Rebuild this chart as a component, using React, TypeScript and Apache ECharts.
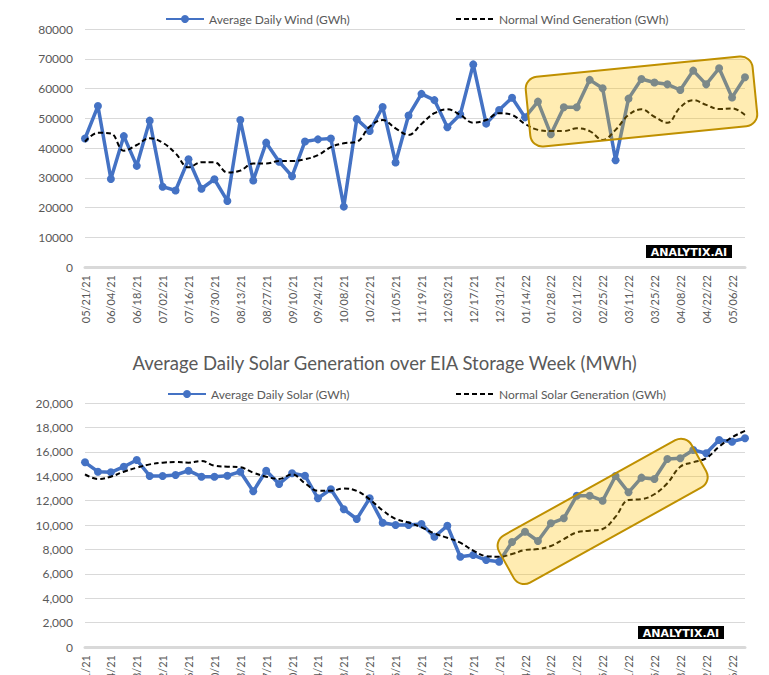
import React, { useEffect, useRef } from "react";
import * as echarts from "echarts";

const dates = [
  "05/21/21", "05/28/21", "06/04/21", "06/11/21", "06/18/21", "06/25/21", "07/02/21", "07/09/21",
  "07/16/21", "07/23/21", "07/30/21", "08/06/21", "08/13/21", "08/20/21", "08/27/21", "09/03/21",
  "09/10/21", "09/17/21", "09/24/21", "10/01/21", "10/08/21", "10/15/21", "10/22/21", "10/29/21",
  "11/05/21", "11/12/21", "11/19/21", "11/26/21", "12/03/21", "12/10/21", "12/17/21", "12/24/21",
  "12/31/21", "01/07/22", "01/14/22", "01/21/22", "01/28/22", "02/04/22", "02/11/22", "02/18/22",
  "02/25/22", "03/04/22", "03/11/22", "03/18/22", "03/25/22", "04/01/22", "04/08/22", "04/15/22",
  "04/22/22", "04/29/22", "05/06/22", "05/13/22",
];

const windActual = [
  43200, 54100, 29600, 44000, 34000, 49200, 27000, 25700, 36200, 26300, 29500, 22200, 49400,
  29100, 41800, 35400, 30500, 42200, 42900, 43200, 20300, 49700, 45700, 53800, 35100, 50900,
  58200, 56100, 47000, 51300, 68100, 48200, 52800, 56900, 50300, 55600, 44600, 53700, 53700,
  62900, 60100, 35900, 56600, 63200, 62000, 61400, 59500, 66000, 61400, 66800, 57000, 63800,
];

const windNormal = [
  42100, 45100, 44900, 39100, 41000, 43300, 41800, 38200, 33500, 35200, 35200, 31800, 32400,
  34800, 34800, 35600, 35600, 36200, 37600, 40300, 41600, 42100, 47200, 49400, 46600, 44400,
  48100, 51700, 53000, 51100, 48500, 49400, 51700, 51100, 48100, 46100, 45700, 45700, 46600,
  45700, 42700, 46100, 51100, 53000, 50500, 48500, 53700, 56100, 54500, 53100, 53300, 51100,
];

const solarActual = [
  15140, 14370, 14320, 14780, 15330, 14020, 14020, 14100, 14450, 13960, 13960, 14040, 14370,
  12760, 14450, 13360, 14240, 14040, 12190, 12930, 11290, 10490, 12190, 10190, 10000, 10000,
  10080, 9040, 9940, 7400, 7540, 7130, 6990, 8600, 9450, 8690, 10140, 10550, 12400, 12400,
  11990, 14020, 12680, 13880, 13770, 15410, 15470, 16150, 15880, 16970, 16830, 17110,
];

const solarNormal = [
  14150, 13770, 13960, 14370, 14700, 14970, 15110, 15160, 15110, 15250, 14860, 14780, 14730,
  14290, 13960, 13770, 14150, 13420, 12800, 12800, 13000, 12800, 12100, 11200, 10500, 10200,
  9800, 9300, 8950, 8550, 7900, 7450, 7400, 7620, 7950, 8030, 8280, 8850, 9400, 9530, 9670,
  10680, 12050, 12110, 12520, 13420, 14780, 15140, 15470, 16420, 17190, 17710,
];

const windName = "Average Daily Wind (GWh)";
const windNormalName = "Normal Wind Generation (GWh)";
const solarName = "Average Daily Solar (GWh)";
const solarNormalName = "Normal Solar Generation (GWh)";
const solarTitle = "Average Daily Solar Generation over EIA Storage Week (MWh)";
const watermark = "ANALYTIX.AI";

// highlight boxes: centre in data coords [category index, value]
const windBoxCenter = [42.77, 55630];
const solarBoxCenter = [39.57, 11115];

const FONT = "Lato, 'Noto Sans', sans-serif";
const GREY = "#595959";
const BLUE = "#4472C4";

export default function App() {
  const ref = useRef<HTMLDivElement>(null);
  useEffect(() => {
    if (!ref.current) return;
    const chart = echarts.init(ref.current, undefined, { renderer: "svg" });
    const xAxisBase = (gridIndex: number) => ({
      type: "category" as const,
      gridIndex,
      data: dates,
      boundaryGap: false,
      axisTick: { show: false },
      axisLine: { lineStyle: { color: "#d9d9d9", width: 3 } },
      axisLabel: {
        rotate: 90,
        interval: 1,
        margin: 8,
        fontSize: 11,
        color: GREY,
        fontFamily: FONT,
      },
      splitLine: { show: false },
    });
    const legendBase = {
      itemWidth: 38,
      itemHeight: 10,
      itemGap: 10,
      padding: 0,
      textStyle: { color: GREY, fontSize: 12, fontFamily: FONT },
      selectedMode: false as const,
    };
    chart.setOption({
      animation: false,
      backgroundColor: "#ffffff",
      title: {
        text: solarTitle,
        left: "center",
        top: 348,
        textStyle: { color: GREY, fontSize: 18.5, fontWeight: "normal", fontFamily: FONT },
      },
      legend: [
        { ...legendBase, data: [windName], left: 165, top: 13 },
        { ...legendBase, data: [{ name: windNormalName, itemStyle: { opacity: 0 } }], left: 455, top: 13 },
        { ...legendBase, data: [solarName], left: 167, top: 388 },
        { ...legendBase, data: [{ name: solarNormalName, itemStyle: { opacity: 0 } }], left: 455, top: 388 },
      ],
      grid: [
        { left: 85, right: 24, top: 29, height: 238, outerBoundsMode: "none", containLabel: false },
        { left: 85, right: 24, top: 403, height: 244, outerBoundsMode: "none", containLabel: false },
      ],
      xAxis: [xAxisBase(0), xAxisBase(1)],
      yAxis: [
        {
          type: "value",
          gridIndex: 0,
          min: 0,
          max: 80000,
          interval: 10000,
          axisLine: { show: false },
          axisTick: { show: false },
          axisLabel: { margin: 12, fontSize: 12, color: GREY, fontFamily: FONT, formatter: (v: number) => String(v) },
          splitLine: { lineStyle: { color: "#d9d9d9", width: 1 } },
        },
        {
          type: "value",
          gridIndex: 1,
          min: 0,
          max: 20000,
          interval: 2000,
          axisLine: { show: false },
          axisTick: { show: false },
          axisLabel: {
            margin: 12,
            fontSize: 12,
            color: GREY,
            fontFamily: FONT,
            formatter: (v: number) => v.toLocaleString("en-US"),
          },
          splitLine: { lineStyle: { color: "#d9d9d9", width: 1 } },
        },
      ],
      series: [
        {
          name: windName,
          type: "line",
          xAxisIndex: 0,
          yAxisIndex: 0,
          data: windActual,
          symbol: "circle",
          symbolSize: 8,
          itemStyle: { color: BLUE },
          lineStyle: { color: BLUE, width: 3.5 },
          z: 3,
        },
        {
          name: windNormalName,
          type: "line",
          xAxisIndex: 0,
          yAxisIndex: 0,
          data: windNormal,
          symbol: "none",
          smooth: 0.4,
          itemStyle: { color: "#000" },
          lineStyle: { color: "#000", width: 2, type: [5, 3] },
          z: 4,
        },
        {
          name: solarName,
          type: "line",
          xAxisIndex: 1,
          yAxisIndex: 1,
          data: solarActual,
          symbol: "circle",
          symbolSize: 8,
          itemStyle: { color: BLUE },
          lineStyle: { color: BLUE, width: 3.5 },
          z: 3,
        },
        {
          name: solarNormalName,
          type: "line",
          xAxisIndex: 1,
          yAxisIndex: 1,
          data: solarNormal,
          symbol: "none",
          smooth: 0.4,
          itemStyle: { color: "#000" },
          lineStyle: { color: "#000", width: 2, type: [5, 3] },
          z: 4,
        },
      ],
    });

    const p1 = chart.convertToPixel({ xAxisIndex: 0, yAxisIndex: 0 }, windBoxCenter) as number[];
    const p2 = chart.convertToPixel({ xAxisIndex: 1, yAxisIndex: 1 }, solarBoxCenter) as number[];
    const box = (c: number[], w: number, h: number, deg: number) => ({
      type: "rect",
      x: c[0],
      y: c[1],
      rotation: (deg * Math.PI) / 180,
      z: 100,
      shape: { x: -w / 2, y: -h / 2, width: w, height: h, r: 12 },
      style: { fill: "rgba(255,192,0,0.3)", stroke: "#BF9000", lineWidth: 2 },
    });
    const mark = (x: number, y: number, w: number, h: number) => ({
      type: "group",
      x,
      y,
      z: 110,
      children: [
        { type: "rect", shape: { x: 0, y: 0, width: w, height: h }, style: { fill: "#000" } },
        {
          type: "text",
          x: w / 2,
          y: h / 2 + 0.5,
          style: {
            text: watermark,
            fill: "#fff",
            fontSize: 11,
            fontWeight: "bold",
            fontFamily: "'DejaVu Sans', sans-serif",
            align: "center",
            verticalAlign: "middle",
          },
        },
      ],
    });
    chart.setOption({
      graphic: [
        box(p1, 228, 70, 5.7),
        box(p2, 220, 54, 29),
        mark(646, 245, 86, 13),
        mark(638, 626, 86, 13),
      ],
    });
    return () => chart.dispose();
  }, []);
  return (
    <div
      style={{ position: "fixed", left: 0, top: 0, width: 769, height: 675, background: "#fff", overflow: "hidden" }}
    >
      <div ref={ref} style={{ width: 769, height: 675 }} />
    </div>
  );
}
